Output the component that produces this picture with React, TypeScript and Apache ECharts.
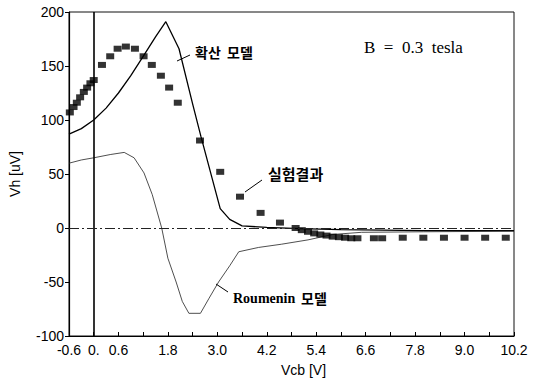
import React, { useEffect, useRef } from "react";
import * as echarts from "echarts";

// Experimental data (실험결과)
const expX = [-0.58, -0.49, -0.41, -0.33, -0.24, -0.16, -0.08, 0.0, 0.2, 0.4, 0.58, 0.78, 1.0, 1.21, 1.41, 1.63, 1.83, 2.04, 2.58, 3.07, 3.55, 4.05, 4.52, 4.9, 5.05, 5.2, 5.35, 5.5, 5.65, 5.8, 5.95, 6.1, 6.25, 6.4, 6.8, 7.0, 7.5, 8.0, 8.5, 9.0, 9.5, 10.0];
const expY = [107, 112, 116, 121, 126, 130, 134, 137, 151, 159, 166, 168, 166, 159, 151, 141, 130, 116, 81, 52, 29, 14, 5, 0, -2, -3.5, -5, -6, -7, -8, -8.5, -9, -9.5, -9.5, -9.5, -9.5, -9, -9, -9, -9, -9, -9];

// Diffusion model (확산 모델)
const diffX = [-0.6, -0.3, 0, 0.3, 0.6, 0.9, 1.2, 1.5, 1.75, 2.07, 2.4, 2.6, 3.07, 3.3, 3.6, 4.2, 5.0, 6.0, 7.0, 8.0, 9.0, 10.2];
const diffY = [87, 92, 100, 111, 125, 141, 159, 177, 191, 166, 115, 85, 18, 8, 2, 0.5, -0.5, -1.5, -2, -2.5, -2.5, -2.5];

// Roumenin model
const roumX = [-0.6, -0.3, 0, 0.4, 0.74, 0.98, 1.22, 1.42, 1.65, 1.8, 2.0, 2.15, 2.31, 2.59, 2.8, 3.03, 3.3, 3.52, 4.0, 4.56, 5.2, 5.8, 6.5, 8.0, 10.2];
const roumY = [60, 63, 65, 68, 70, 65, 51, 31, 0, -28, -50, -68, -79, -79, -65, -50, -35, -22, -18, -15, -11, -6, -4, -3.5, -3];

// X tick labels shown (others blank)
const xTickValues = [-0.6, 0, 0.6, 1.8, 3.0, 4.2, 5.4, 6.6, 7.8, 9.0, 10.2];
const xTickTexts = ["-0.6", "0.", "0.6", "1.8", "3.0", "4.2", "5.4", "6.6", "7.8", "9.0", "10.2"];

const pair = (xs: number[], ys: number[]) => xs.map((x, i) => [x, ys[i]]);

export default function App() {
  const ref = useRef<HTMLDivElement>(null);
  useEffect(() => {
    const chart = echarts.init(ref.current!, undefined, { renderer: "svg" });
    const sans = "'Liberation Sans', Arial, sans-serif";
    const serif = "'Liberation Serif', 'Times New Roman', serif";
    const kr = "'Noto Sans CJK KR', sans-serif";
    chart.setOption({
      animation: false,
      backgroundColor: "#ffffff",
      grid: { left: 66, right: 19, top: 12, bottom: 45, show: true, borderColor: "#111", borderWidth: 1, backgroundColor: "transparent" },
      xAxis: {
        type: "value",
        min: -0.6,
        max: 10.2,
        interval: 0.6,
        name: "Vcb [V]",
        nameLocation: "middle",
        nameGap: 27,
        nameTextStyle: { fontFamily: sans, fontSize: 14, color: "#000", padding: [0, 0, 0, 24] },
        axisLine: { onZero: false, lineStyle: { color: "#000", width: 1.2 } },
        axisTick: { inside: true, length: 4, lineStyle: { color: "#000" } },
        axisLabel: {
          fontFamily: sans,
          fontSize: 14,
          color: "#000",
          margin: 7,
          showMinLabel: true,
          showMaxLabel: true,
          formatter: (v: number) => {
            const r = Math.round(v * 10) / 10;
            const idx = xTickValues.findIndex((t) => Math.abs(t - r) < 1e-6);
            return idx >= 0 ? xTickTexts[idx] : "";
          },
        },
        splitLine: { show: false },
      },
      yAxis: {
        type: "value",
        min: -100,
        max: 200,
        interval: 50,
        name: "Vh [uV]",
        nameLocation: "middle",
        nameRotate: 90,
        nameGap: 47,
        nameTextStyle: { fontFamily: sans, fontSize: 14, color: "#000" },
        axisLine: { onZero: false, lineStyle: { color: "#000", width: 1.2 } },
        axisTick: { inside: false, length: 4, lineStyle: { color: "#000" } },
        axisLabel: { fontFamily: sans, fontSize: 14, color: "#000", margin: 5 },
        splitLine: { show: false },
      },
      series: [
        {
          name: "확산 모델",
          type: "line",
          data: pair(diffX, diffY),
          showSymbol: false,
          symbol: "none",
          lineStyle: { color: "#000", width: 1.3 },
          z: 3,
        },
        {
          name: "Roumenin 모델",
          type: "line",
          data: pair(roumX, roumY),
          showSymbol: false,
          symbol: "none",
          lineStyle: { color: "#222", width: 0.8 },
          z: 3,
          markLine: {
            silent: true,
            symbol: "none",
            label: { show: false },
            data: [
              { xAxis: 0, lineStyle: { color: "#000", width: 1.6, type: "solid" } },
              { yAxis: 0, lineStyle: { color: "#222", width: 1, type: [10, 3, 2, 3] } },
            ],
          },
        },
        {
          name: "실험결과",
          type: "scatter",
          data: pair(expX, expY),
          symbol: "rect",
          symbolSize: [8, 6],
          itemStyle: { color: "#000" },
          z: 4,
        },
      ],
      graphic: [
        { type: "line", shape: { x1: 177, y1: 61, x2: 190, y2: 55 }, style: { stroke: "#000", lineWidth: 1 } },
        { type: "text", x: 195, y: 52, style: { text: "확산  모델", fontFamily: kr, fontSize: 14, fontWeight: "bold", fill: "#000", verticalAlign: "middle", textVerticalAlign: "middle" } },
        { type: "line", shape: { x1: 245, y1: 192, x2: 262, y2: 180 }, style: { stroke: "#000", lineWidth: 1 } },
        { type: "text", x: 268, y: 173, style: { text: "실험결과", fontFamily: kr, fontSize: 15, fontWeight: "bold", fill: "#000", verticalAlign: "middle", textVerticalAlign: "middle" } },
        { type: "line", shape: { x1: 216, y1: 284, x2: 228, y2: 292 }, style: { stroke: "#000", lineWidth: 1 } },
        { type: "text", x: 233, y: 298, style: { text: "Roumenin", fontFamily: serif, fontSize: 14, fontWeight: "bold", fill: "#000", verticalAlign: "middle", textVerticalAlign: "middle" } },
        { type: "text", x: 301, y: 298, style: { text: "모델", fontFamily: kr, fontSize: 14, fontWeight: "bold", fill: "#000", verticalAlign: "middle", textVerticalAlign: "middle" } },
        { type: "text", x: 364, y: 47, style: { text: "B  =  0.3  tesla", fontFamily: serif, fontSize: 17, fill: "#000", verticalAlign: "middle", textVerticalAlign: "middle" } },
      ],
    });
    return () => chart.dispose();
  }, []);
  return <div ref={ref} style={{ position: "absolute", left: 0, top: 0, width: 533, height: 382, background: "#fff" }} />;
}
